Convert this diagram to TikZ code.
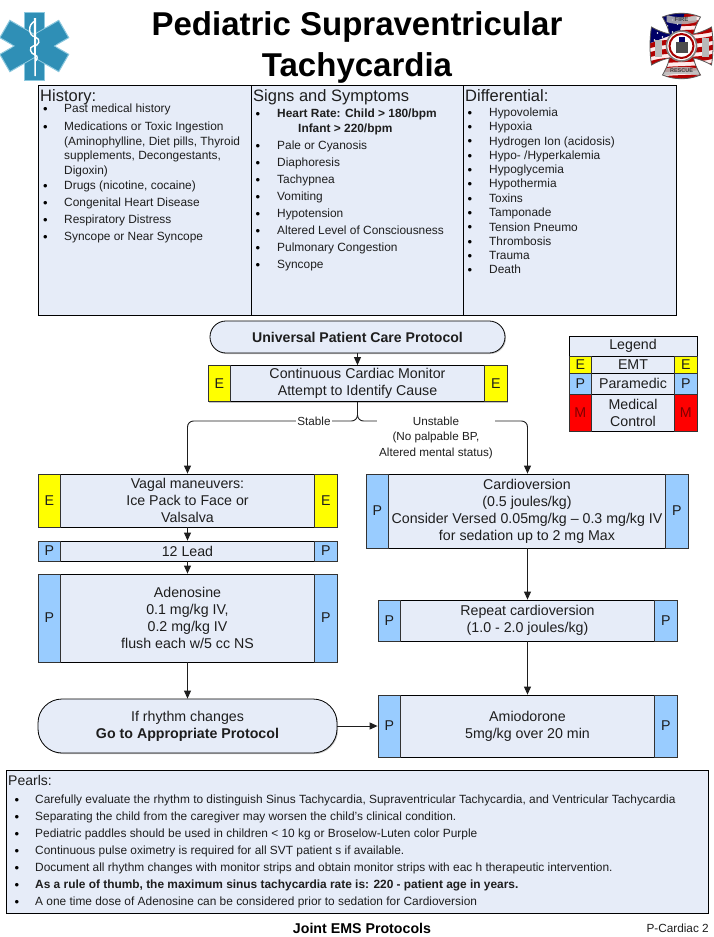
\documentclass[tikz,border=0pt]{standalone}
\usepackage{fontspec}
\setmainfont{Liberation Sans}
\usetikzlibrary{arrows.meta,shadows}
\definecolor{boxfill}{HTML}{E6ECF8}
\definecolor{tabE}{HTML}{FFFF00}
\definecolor{tabP}{HTML}{99CCFF}
\definecolor{tabM}{HTML}{FF0000}
\definecolor{ink}{HTML}{1E1E1E}
\definecolor{staroflife}{HTML}{2F8FB6}
\definecolor{starrim}{HTML}{8CC8DE}
\tikzset{
  box/.style={draw=black,fill=boxfill,line width=0.8pt,inner sep=0pt,text=ink,align=center,
     drop shadow={shadow xshift=1pt,shadow yshift=-1pt,opacity=.45,fill=gray}},
  tabn/.style={draw=black!80,line width=0.8pt,inner sep=0pt,text=ink,align=center,font=\fontsize{14.2}{17}\selectfont},
  flow/.style={font=\fontsize{14.2}{17}\selectfont},
  arr/.style={draw=ink,line width=0.9pt,-{Triangle[length=8pt,width=7pt]}},
  listt/.style={anchor=mid west,inner sep=0pt,yshift=-2pt,text=ink,font=\fontsize{11.9}{14}\selectfont},
  hdr/.style={anchor=mid west,inner sep=0pt,yshift=-2pt,text=ink,font=\fontsize{16.5}{18}\selectfont},
  bul/.style={anchor=center,inner sep=0pt,yshift=-2.2pt,text=black,font=\fontsize{13}{14}\selectfont},
  lab/.style={fill=white,inner sep=1.5pt,text=ink,align=center,font=\fontsize{11.7}{15.5}\selectfont},
}
% name, x0, y0, x1, y1, letter, colour, text
\newcommand{\procbox}[8]{%
  \node[box,flow,minimum width={(#4-#2)*1pt},minimum height={(#5-#3)*1pt}] (#1) at ({(#2+#4)/2},{(#3+#5)/2}) {#8};
  \node[tabn,fill=#7,minimum width=22.5pt,minimum height={(#5-#3)*1pt}] (#1-l) at ({#2+11.25},{(#3+#5)/2}) {#6};
  \node[tabn,fill=#7,minimum width=22.5pt,minimum height={(#5-#3)*1pt}] (#1-r) at ({#4-11.25},{(#3+#5)/2}) {#6};
}
\begin{document}
\begin{tikzpicture}[x=1pt,y=-1pt]
\useasboundingbox (0,0) rectangle (713,937);
\fill[white] (0,0) rectangle (713,937);

% ---------- title
\node[inner sep=0pt,align=center,font=\bfseries\fontsize{33}{41}\selectfont] (title) at (357,47.5) {Pediatric Supraventricular\\Tachycardia};

% ---------- star of life
\begin{scope}[shift={(34.3,46)}]
  \foreach \a in {0,60,120}{
    \fill[staroflife,draw=starrim,line width=1pt,rotate=\a] (-10,-34) rectangle (10,34);
  }
  \fill[staroflife] (-9.4,-9.4) rectangle (9.4,9.4);
  \foreach \a in {60,120}{\fill[staroflife,rotate=\a] (-9.4,-20) rectangle (9.4,20);}
  \fill[white] (-0.5,-28) -- (1.8,-28) -- (1.6,30) -- (0.2,30) -- cycle;
  \draw[white,line width=1.4pt,line cap=round] (1,-25) .. controls (-7,-22) and (-6,-10) .. (1,-9)
     .. controls (7,-7) and (5,0) .. (-1,0) .. controls (-6,1) and (-4,8) .. (1,9)
     .. controls (4,10) and (3,14) .. (1,15);
\end{scope}

% ---------- fire badge
\begin{scope}[shift={(681.5,46)}]
  \path[save path=\crosspath] (-19,-29) .. controls (-7,-34) and (7,-34) .. (19,-29)
     .. controls (15,-22) and (13,-17) .. (12,-12)
     .. controls (17,-13) and (23,-15) .. (30,-19)
     .. controls (32,-7) and (32,7) .. (30,19)
     .. controls (23,15) and (17,13) .. (12,12)
     .. controls (13,17) and (15,22) .. (19,29)
     .. controls (7,34) and (-7,34) .. (-19,29)
     .. controls (-15,22) and (-13,17) .. (-12,12)
     .. controls (-17,13) and (-23,15) .. (-30,19)
     .. controls (-32,7) and (-32,-7) .. (-30,-19)
     .. controls (-23,-15) and (-17,-13) .. (-12,-12)
     .. controls (-13,-17) and (-15,-22) .. (-19,-29) -- cycle;
  \begin{scope}
    \clip[use path=\crosspath];
    \fill[white!92!red] (-34,-36) rectangle (34,36);
    \foreach \s in {-34,-25,-16,-7,2,11,20,29}{
      \fill[red!70!black] (-34,\s+5) .. controls (-12,\s-3) and (12,\s+3) .. (34,\s-4) -- (34,\s+1) .. controls (12,\s+8) and (-12,\s+2) .. (-34,\s+10) -- cycle;
    }
    \fill[blue!40!black] (-34,-36) -- (4,-36) -- (-2,-14) -- (-34,-2) -- cycle;
    \foreach \p in {(-24,-13),(-19,-9),(-14,-20),(-9,-26),(-9,-14),(-27,-6),(-18,-15),(-4,-22)}{\fill[white] \p circle (0.8);}
    \fill[gray!55,opacity=.85] (-15,-31) .. controls (-5,-28) and (5,-28) .. (15,-31) -- (15,-24) .. controls (5,-21) and (-5,-21) .. (-15,-24) -- cycle;
    \fill[gray!55,opacity=.85] (-18,23) .. controls (-6,20) and (6,20) .. (18,23) -- (18,30) .. controls (6,27) and (-6,27) .. (-18,30) -- cycle;
    \fill[gray!55] (20,-8) rectangle (27,11);
    \fill[gray!55] (-27,-6) rectangle (-20,11);
  \end{scope}
  \draw[gray!70!black,line width=0.8pt,use path=\crosspath];
  \draw[gray,line width=1.6pt,fill=white] (0,0) circle (15);
  \draw[red!65!black,line width=2pt] (0,0) circle (12);
  \fill[gray!60!black] (-6,-4) rectangle (6,7);
  \fill[blue!40!black] (-3,-9) rectangle (3,-4);
  \node[inner sep=0pt,text=black!75,font=\bfseries\fontsize{6}{6}\selectfont] (badgetop) at (0,-26.5) {FIRE};
  \node[inner sep=0pt,text=black!75,font=\bfseries\fontsize{5.5}{6}\selectfont] (badgebot) at (0,25) {RESCUE};
\end{scope}

% ---------- information panels
\node[box,minimum width=213pt,minimum height=230pt] (hist) at (144.5,200) {};
\node[box,minimum width=212pt,minimum height=230pt] (signs) at (357,200) {};
\node[box,minimum width=213pt,minimum height=230pt] (diff) at (569.5,200) {};
\node[hdr] (histh) at (40,96.5) {History:};
\node[hdr] (signsh) at (253,96.5) {Signs and Symptoms};
\node[hdr] (diffh) at (465,96.5) {Differential:};

\foreach \y/\t [count=\i] in {
  108/{Past medical history},
  126/{Medications or Toxic Ingestion},
  140.5/{(Aminophylline, Diet pills, Thyroid},
  155/{supplements, Decongestants,},
  169.5/{Digoxin)},
  185/{Drugs (nicotine, cocaine)},
  202/{Congenital Heart Disease},
  219/{Respiratory Distress},
  236/{Syncope or Near Syncope}}
  {\node[listt] (h\i) at (64,\y) {\t};}
\foreach \y [count=\i] in {108,126,185,202,219,236}
  {\node[bul] (hb\i) at (45.5,\y) {•};}

\node[listt,font=\bfseries\fontsize{11.9}{14}\selectfont] (s1) at (277,113) {Heart Rate: Child > 180/bpm};
\node[listt,font=\bfseries\fontsize{11.9}{14}\selectfont] (s2) at (298,128) {Infant > 220/bpm};
\foreach \y/\t [count=\i from 3] in {
  145/{Pale or Cyanosis},
  162/{Diaphoresis},
  179/{Tachypnea},
  196/{Vomiting},
  213/{Hypotension},
  230/{Altered Level of Consciousness},
  247/{Pulmonary Congestion},
  264/{Syncope}}
  {\node[listt] (s\i) at (277,\y) {\t};}
\foreach \y [count=\i] in {113,145,162,179,196,213,230,247,264}
  {\node[bul] (sb\i) at (258,\y) {•};}

\foreach \y/\t [count=\i] in {
  112/{Hypovolemia},
  126/{Hypoxia},
  140.5/{Hydrogen Ion (acidosis)},
  155/{Hypo- /Hyperkalemia},
  169/{Hypoglycemia},
  183/{Hypothermia},
  198/{Toxins},
  212/{Tamponade},
  226.5/{Tension Pneumo},
  241/{Thrombosis},
  255/{Trauma},
  269/{Death}}
  {\node[listt] (d\i) at (489,\y) {\t};
   \node[bul] (db\i) at (470,\y) {•};}

% ---------- flow, left
\node[box,flow,font=\bfseries\fontsize{14.1}{17}\selectfont,rounded corners=15.9pt,minimum width=295pt,minimum height=32pt] (uni) at (357.5,337) {Universal Patient Care Protocol};
\procbox{cont}{208}{365.5}{507}{401.5}{E}{tabE}{Continuous Cardiac Monitor\\Attempt to Identify Cause}
\procbox{vagal}{38}{474}{337}{527}{E}{tabE}{Vagal maneuvers:\\Ice Pack to Face or\\Valsalva}
\procbox{lead}{38}{541}{337}{561}{P}{tabP}{12 Lead}
\procbox{aden}{38}{574}{337}{662}{P}{tabP}{Adenosine\\0.1 mg/kg IV,\\0.2 mg/kg IV\\flush each w/5 cc NS}
\node[box,flow,rounded corners=24pt,minimum width=299pt,minimum height=54pt] (term) at (187.5,726) {If rhythm changes\\\textbf{Go to Appropriate Protocol}};

% ---------- flow, right
\procbox{cardio}{366}{474}{688}{548}{P}{tabP}{Cardioversion\\(0.5 joules/kg)\\Consider Versed 0.05mg/kg – 0.3 mg/kg IV\\for sedation up to 2 mg Max}
\procbox{rep}{378}{600}{677}{641}{P}{tabP}{Repeat cardioversion\\(1.0 - 2.0 joules/kg)}
\procbox{amio}{378}{695}{677}{757}{P}{tabP}{Amiodorone\\5mg/kg over 20 min}

% ---------- connectors
\coordinate (fork) at (357.5,421);
\draw[arr] (uni.south) -- (cont.north);
\draw[arr,rounded corners=6pt] (cont.south) -- (fork) -| (vagal.north);
\draw[arr,rounded corners=6pt] (cont.south) -- (fork) -| (rep.north |- cardio.north);
\draw[arr] (vagal.south) -- (lead.north);
\draw[arr] (lead.south) -- (aden.north);
\draw[arr] (aden.south) -- (term.north);
\draw[arr] (term.east) -- (amio-l.west);
\draw[arr] (rep.north |- cardio.south) -- (rep.north);
\draw[arr] (rep.south) -- (amio.north);
\node[lab] (stable) at (314,421) {Stable};
\node[lab,anchor=north,inner xsep=2pt,inner ysep=0pt] (unstable) at (436,416.5) {Unstable\\(No palpable BP,\\Altered mental status)};

% ---------- legend
\node[box,flow,minimum width=128pt,minimum height=20pt] (leg) at (633,346) {Legend};
\procbox{lege}{569}{356}{697}{373}{E}{tabE}{EMT}
\procbox{legp}{569}{373}{697}{394}{P}{tabP}{Paramedic}
\procbox{legm}{569}{394}{697}{431}{\textcolor{red!50!black}{M}}{tabM}{Medical\\Control}

% ---------- pearls
\node[box,minimum width=702pt,minimum height=143pt] (pearls) at (357,841.5) {};
\node[listt,font=\fontsize{14}{14}\selectfont] (ph) at (8,781) {Pearls:};
\foreach \y/\t [count=\i] in {
  799/{Carefully evaluate the rhythm to distinguish Sinus Tachycardia, Supraventricular Tachycardia, and Ventricular Tachycardia},
  816/{Separating the child from the caregiver may worsen the child's clinical condition.},
  833/{Pediatric paddles should be used in children < 10 kg or Broselow-Luten color Purple},
  850/{Continuous pulse oximetry is required for all SVT patient s if available.},
  867/{Document all rhythm changes with monitor strips and obtain monitor strips with eac h therapeutic intervention.},
  884/{\textbf{As a rule of thumb, the maximum sinus tachycardia rate is: 220 - patient age in years.}},
  901/{A one time dose of Adenosine can be considered prior to sedation for Cardioversion}}
  {\node[listt] (p\i) at (35,\y) {\t};
   \node[bul] (pb\i) at (17,\y) {•};}

% ---------- footer
\node[inner sep=0pt,font=\bfseries\fontsize{14.2}{15}\selectfont] (foot) at (362,928) {Joint EMS Protocols};
\node[inner sep=0pt,anchor=mid east,yshift=-1pt,text=ink,font=\fontsize{11.8}{14}\selectfont] (pg) at (709,929) {P-Cardiac 2};
\end{tikzpicture}
\end{document}
